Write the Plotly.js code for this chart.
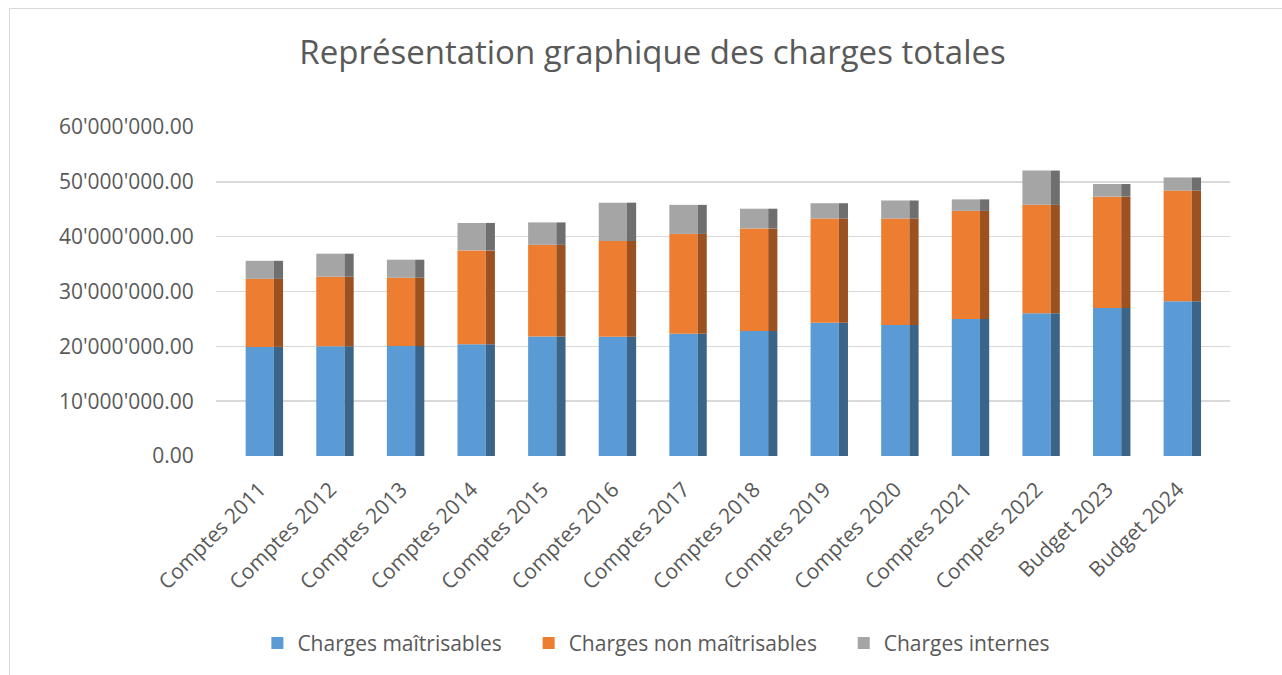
<!DOCTYPE html>
<html>
<head>
<meta charset="utf-8">
<script src="https://cdn.plot.ly/plotly-3.0.1.min.js"></script>
<style>
  html, body { margin: 0; padding: 0; background: #ffffff; }
  #chart { position: absolute; left: 0; top: 0; width: 1282px; height: 675px; }
  #frame { position: absolute; left: 9px; top: 8px; width: 1400px; height: 800px;
           border: 1.5px solid #d9d9d9; pointer-events: none; }
</style>
</head>
<body>
<div id="chart"></div>
<div id="frame"></div>
<script>
// ---- data (CHF) ----
const categories = [
  "Comptes 2011", "Comptes 2012", "Comptes 2013", "Comptes 2014", "Comptes 2015",
  "Comptes 2016", "Comptes 2017", "Comptes 2018", "Comptes 2019", "Comptes 2020",
  "Comptes 2021", "Comptes 2022", "Budget 2023", "Budget 2024"
];
const chargesMaitrisables = [
  19900000, 20000000, 20050000, 20400000, 21800000, 21750000, 22300000,
  22800000, 24300000, 23900000, 25000000, 26050000, 27000000, 28200000
];
const chargesNonMaitrisables = [
  12400000, 12700000, 12450000, 17100000, 16700000, 17450000, 18200000,
  18700000, 19000000, 19400000, 19700000, 19750000, 20300000, 20200000
];
const chargesInternes = [
  3300000, 4200000, 3300000, 5000000, 4100000, 7000000, 5300000,
  3600000, 2800000, 3300000, 2100000, 6250000, 2300000, 2400000
];
const seriesNames = ["Charges maîtrisables", "Charges non maîtrisables", "Charges internes"];

// ---- styling ----
const frontColors = ["#5b9bd5", "#ed7d31", "#a5a5a5"];
const sideColors  = ["#3b6489", "#9b5220", "#6f6f6f"];
const textColor = "#595959";
const fontFamily = "'Open Sans', 'Noto Sans', sans-serif";
const legendPad = ["\u00a0\u00a0\u00a0\u00a0", "\u00a0\u00a0\u00a0\u00a0", ""];

const series = [chargesMaitrisables, chargesNonMaitrisables, chargesInternes];
const traces = [];
let cumul = categories.map(() => 0);
series.forEach((vals, k) => {
  const base = cumul.slice();
  // front face
  traces.push({
    type: "bar", name: seriesNames[k] + legendPad[k], x: categories, y: vals, base: base,
    width: 0.4, offset: -0.2,
    marker: { color: frontColors[k], line: { width: 0 } },
    showlegend: true, hoverinfo: "x+y+name"
  });
  // side face (pseudo-3D shading)
  traces.push({
    type: "bar", name: seriesNames[k], x: categories, y: vals, base: base,
    width: 0.13, offset: 0.2,
    marker: { color: sideColors[k], line: { width: 0 } },
    showlegend: false, hoverinfo: "skip"
  });
  cumul = cumul.map((c, i) => c + vals[i]);
});

const layout = {
  width: 1282, height: 675,
  paper_bgcolor: "rgba(0,0,0,0)", plot_bgcolor: "rgba(0,0,0,0)",
  separators: ".'",
  barmode: "overlay",
  margin: { l: 216, r: 52, t: 127, b: 219, pad: 0 },
  font: { family: fontFamily, color: textColor, size: 21 },
  title: {
    text: "Représentation graphique des charges totales",
    font: { family: fontFamily, size: 33, color: textColor },
    xref: "container", yref: "container",
    x: 0.509, xanchor: "center", y: 0.923, yanchor: "middle"
  },
  xaxis: {
    type: "category",
    range: [-0.62, 13.74],
    tickangle: -45,
    tickfont: { family: fontFamily, size: 21, color: textColor },
    showgrid: false, zeroline: false, showline: false,
    ticks: "outside", ticklen: 12, tickcolor: "rgba(0,0,0,0)"
  },
  yaxis: {
    range: [0, 60000000],
    dtick: 10000000,
    tickformat: ",.2f",
    tickfont: { family: fontFamily, size: 21, color: textColor },
    showgrid: true, gridcolor: "#d9d9d9", gridwidth: 1.5,
    zeroline: false, showline: false,
    ticks: "outside", ticklen: 17, tickcolor: "rgba(0,0,0,0)"
  },
  legend: {
    orientation: "h",
    xref: "container", yref: "container",
    x: 0.512, xanchor: "center", y: 0.047, yanchor: "middle",
    font: { family: fontFamily, size: 21, color: textColor },
    itemwidth: 30
  },
  showlegend: true
};

Plotly.newPlot("chart", traces, layout, { displayModeBar: false, staticPlot: true });
</script>
</body>
</html>
